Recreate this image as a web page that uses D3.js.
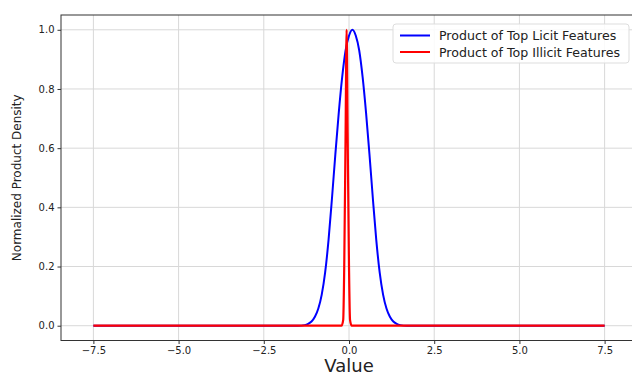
<!DOCTYPE html>
<html>
<head>
<meta charset="utf-8">
<script src="https://cdn.jsdelivr.net/npm/d3@7"></script>
<style>
  html, body { margin: 0; padding: 0; background: #fff; }
  svg { display: block; font-family: "DejaVu Sans", sans-serif; }
</style>
</head>
<body>
<svg id="chart" width="632" height="376"></svg>
<script>
// Sampled density curves (normalized to peak = 1)
const licitX = [-7.5, -1.5, -1.3, -1.2, -1.1, -1.0, -0.9, -0.8, -0.7, -0.6, -0.5, -0.4, -0.3, -0.2, -0.1, 0.0, 0.1,
                0.2, 0.3, 0.4, 0.5, 0.6, 0.7, 0.8, 0.9, 1.0, 1.1, 1.2, 1.3, 1.4, 1.5, 1.7, 7.5];
const licitY = [0, 0, 0.002, 0.006, 0.014, 0.03, 0.058, 0.105, 0.18, 0.29, 0.43, 0.58, 0.72, 0.84, 0.93, 0.98, 1.0,
                0.98, 0.93, 0.84, 0.72, 0.58, 0.43, 0.29, 0.18, 0.105, 0.058, 0.03, 0.014, 0.006, 0.002, 0, 0];

const illicitX = [-7.5, -0.22, -0.17, -0.14, -0.1, -0.07, -0.04, 0.0, 0.03, 0.08, 7.5];
const illicitY = [0, 0, 0.02, 0.2, 0.65, 1.0, 0.65, 0.2, 0.02, 0, 0];

const seriesNames = ["Product of Top Licit Features", "Product of Top Illicit Features"];
const seriesColors = ["#0000ff", "#ff0000"];

const xTicks = [-7.5, -5.0, -2.5, 0.0, 2.5, 5.0, 7.5];
const yTicks = [0.0, 0.2, 0.4, 0.6, 0.8, 1.0];

const svg = d3.select("#chart");
const plotLeft = 61, plotRight = 637, plotTop = 15, plotBottom = 340.5;

const x = d3.scaleLinear().domain([-8.45, 8.45]).range([plotLeft, plotRight]);
const y = d3.scaleLinear().domain([-0.05, 1.05]).range([plotBottom, plotTop]);
const fmt = d3.format(".1f");

// grid
const grid = svg.append("g");
grid.selectAll(".gx").data(xTicks).join("line")
  .attr("x1", d => x(d)).attr("x2", d => x(d))
  .attr("y1", plotTop).attr("y2", plotBottom)
  .attr("stroke", "#d8d8d8").attr("stroke-width", 1);
grid.selectAll(".gy").data(yTicks).join("line")
  .attr("x1", plotLeft).attr("x2", plotRight)
  .attr("y1", d => y(d)).attr("y2", d => y(d))
  .attr("stroke", "#d8d8d8").attr("stroke-width", 1);

// curves
const line = d3.line().x(d => x(d[0])).y(d => y(d[1])).curve(d3.curveMonotoneX);
const series = [
  d3.zip(licitX, licitY),
  d3.zip(illicitX, illicitY)
];
svg.append("g").selectAll("path").data(series).join("path")
  .attr("d", line)
  .attr("fill", "none")
  .attr("stroke", (d, i) => seriesColors[i])
  .attr("stroke-width", (d, i) => i === 0 ? 2 : 2.2)
  .attr("stroke-linejoin", "round");

// axes
const xAxis = d3.axisBottom(x).tickValues(xTicks).tickFormat(fmt).tickSize(3.5).tickPadding(3);
const yAxis = d3.axisLeft(y).tickValues(yTicks).tickFormat(fmt).tickSize(3.5).tickPadding(3);

const gx = svg.append("g").attr("transform", `translate(0,${plotBottom})`).call(xAxis);
const gy = svg.append("g").attr("transform", `translate(${plotLeft},0)`).call(yAxis);
[gx, gy].forEach(g => {
  g.select(".domain").remove();
  g.selectAll(".tick line").attr("stroke", "#333");
  g.selectAll(".tick text").attr("fill", "#222").style("font-size", "10px")
    .style("font-family", "DejaVu Sans, sans-serif");
});

// frame
svg.append("rect")
  .attr("x", plotLeft).attr("y", plotTop)
  .attr("width", plotRight - plotLeft).attr("height", plotBottom - plotTop)
  .attr("fill", "none").attr("stroke", "#333").attr("stroke-width", 1);

// axis labels
svg.append("text")
  .attr("x", (plotLeft + plotRight) / 2).attr("y", 372)
  .attr("text-anchor", "middle")
  .style("font-size", "18px").attr("fill", "#222")
  .text("Value");
svg.append("text")
  .attr("transform", `translate(21,${(plotTop + plotBottom) / 2}) rotate(-90)`)
  .attr("text-anchor", "middle")
  .style("font-size", "12px").attr("fill", "#222")
  .text("Normalized Product Density");

// legend
const lg = svg.append("g").attr("transform", "translate(393,24)");
lg.append("rect")
  .attr("x", 0).attr("y", 0).attr("width", 236).attr("height", 39)
  .attr("rx", 3).attr("fill", "#fff").attr("fill-opacity", 0.85)
  .attr("stroke", "#ddd");
seriesNames.forEach((name, i) => {
  const yy = 11.5 + i * 16.5;
  lg.append("line")
    .attr("x1", 7).attr("x2", 37).attr("y1", yy).attr("y2", yy)
    .attr("stroke", seriesColors[i]).attr("stroke-width", 2);
  lg.append("text")
    .attr("x", 46).attr("y", yy + 4.5)
    .style("font-size", "12.6px").attr("fill", "#222")
    .text(name);
});
</script>
</body>
</html>
